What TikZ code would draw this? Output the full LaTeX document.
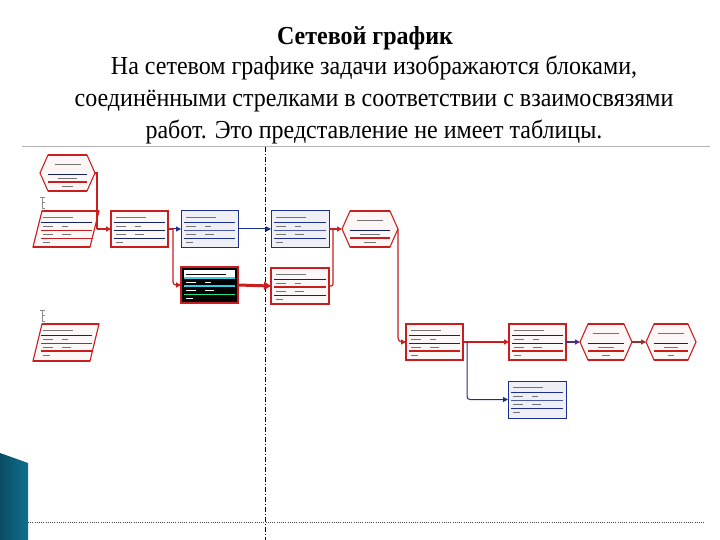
\documentclass[tikz,border=0pt]{standalone}
\usepackage{fontspec}
\setmainfont{Liberation Serif}
\usetikzlibrary{calc,arrows.meta}
\definecolor{rd}{HTML}{C81E1E}
\definecolor{drd}{HTML}{A02C28}
\definecolor{nv}{HTML}{1C2F8C}
\definecolor{pu}{HTML}{4A2C8C}
\definecolor{tl}{HTML}{0F6F8E}
\definecolor{cy}{HTML}{30D0E8}
\tikzset{
  box/.style={minimum width=57pt, minimum height=36pt, inner sep=0pt, outer sep=0pt},
  redbox/.style={box, draw=rd, line width=1.4pt, fill=rd!3},
  bluebox/.style={box, draw=nv, line width=1pt, fill=nv!7},
  blackbox/.style={box, draw=rd, line width=1.2pt, fill=black},
  shapeonly/.style={box},
  txt/.style={line width=0.9pt, black!55},
  wtxt/.style={line width=0.9pt, white},
  rl/.style={rd, line width=1.2pt},
  rlt/.style={rd, line width=2.2pt},
  bl/.style={nv, line width=1pt},
}
\newcommand\rowlines[5]{%
  \draw[#2] ($(#1.north west)+(3,11)$) -- ($(#1.north east)+(-3,11)$);
  \draw[#3] ($(#1.north west)+(3,19)$) -- ($(#1.north east)+(-3,19)$);
  \draw[#4] ($(#1.north west)+(3,27)$) -- ($(#1.north east)+(-3,27)$);
  \draw[#5] ($(#1.north west)+(5,6)$) -- ++(30,0);
  \draw[#5] ($(#1.north west)+(5,15)$) -- ++(10,0) ++(9,0) -- ++(6,0);
  \draw[#5] ($(#1.north west)+(5,23)$) -- ++(10,0) ++(9,0) -- ++(9,0);
  \draw[#5] ($(#1.north west)+(5,31.5)$) -- ++(7,0);
}
\newcommand\hexpath[2]{%
  \fill[rd!4] (#1.west) -- ($(#1.north west)+(#2,0)$) -- ($(#1.north east)+(-#2,0)$) -- (#1.east) -- ($(#1.south east)+(-#2,0)$) -- ($(#1.south west)+(#2,0)$) -- cycle;
  \draw[rd, line width=1.1pt] (#1.west) -- ($(#1.north west)+(#2,0)$) -- ($(#1.north east)+(-#2,0)$) -- (#1.east) -- ($(#1.south east)+(-#2,0)$) -- ($(#1.south west)+(#2,0)$) -- cycle;
  \draw[rd, line width=2pt] ($(#1.north west)+(#2,0)$) -- ($(#1.north east)+(-#2,0)$);
  \draw[rd, line width=2pt] ($(#1.south west)+(#2,0)$) -- ($(#1.south east)+(-#2,0)$);
  \draw[nv!70!black, line width=0.7pt] ($(#1.west)+(#2,1)$) -- ($(#1.east)+(-#2,1)$);
  \draw[rd, line width=1.4pt] ($(#1.west)+(#2,9)$) -- ($(#1.east)+(-#2,9)$);
  \draw[txt] ($(#1.north)+(-13,9)$) -- ++(26,0);
  \draw[txt, line width=0.7pt] ($(#1.west)+(#2+10,5)$) -- ($(#1.east)+(-#2-10,5)$);
  \draw[txt, line width=0.7pt] ($(#1.west)+(#2+14,13.5)$) -- ($(#1.east)+(-#2-14,13.5)$);
}
\newcommand\parapath[1]{%
  \fill[rd!3] ($(#1.north west)+(4.5,0)$) -- ($(#1.north east)+(4.5,0)$) -- ($(#1.south east)+(-4.5,0)$) -- ($(#1.south west)+(-4.5,0)$) -- cycle;
  \draw[rd, line width=1.1pt] ($(#1.north west)+(4.5,0)$) -- ($(#1.north east)+(4.5,0)$) -- ($(#1.south east)+(-4.5,0)$) -- ($(#1.south west)+(-4.5,0)$) -- cycle;
  \draw[rd, line width=2pt] ($(#1.south east)+(-4.5,0)$) -- ($(#1.south west)+(-4.5,0)$);
  \draw[rd, line width=2pt] ($(#1.north west)+(4.5,0)$) -- ($(#1.north east)+(4.5,0)$);
}
\newcommand\ebracket[2]{%
  \draw[black!45, line width=0.8pt] (#1-2,#2) -- (#1+3,#2) (#1,#2) -- (#1,#2+11) -- (#1+3,#2+11) (#1,#2+5.5) -- (#1+3,#2+5.5);
}
\begin{document}
\begin{tikzpicture}[x=1pt,y=-1pt, >={Triangle[length=5pt,width=5pt]}]
\useasboundingbox (0,0) rectangle (720,540);
\fill[white] (0,0) rectangle (720,540);

% title
\node[font=\bfseries\fontsize{24}{28}\selectfont, yscale=1.08] (title) at (365,38) {Сетевой график};
\node[align=center, font=\fontsize{24}{29.5}\selectfont, yscale=1.08] (body) at (374,100)
  {На сетевом графике задачи изображаются блоками,\\
   соединёнными стрелками в соответствии с взаимосвязями\\
   работ. Это представление не имеет таблицы.};

% frame lines
\draw[black!30, line width=1pt] (22,147) -- (710,147);
\draw[black, line width=0.9pt, dash pattern=on 5pt off 2pt on 1pt off 2pt] (265,147) -- (265,540);
\draw[black!70, line width=0.8pt, dash pattern=on 1pt off 1.2pt] (28,522) -- (705,522);

% teal corner
\shade[left color=tl!70!black, right color=tl] (0,453) -- (28,463) -- (28,540) -- (0,540) -- cycle;

% nodes (frames)
\node[shapeonly, minimum width=55pt] (n1) at (67.5,173) {};
\node[shapeonly, minimum width=57pt] (n3) at (66,229) {};
\node[redbox] (n4) at (139.5,229) {};
\node[bluebox] (n5) at (209.5,229) {};
\node[blackbox] (n6) at (209.5,285) {};
\node[bluebox, minimum width=58pt] (n7) at (300,229) {};
\node[redbox, minimum width=58pt] (n8) at (300,286) {};
\node[shapeonly, minimum width=56pt] (n9) at (370,229) {};
\node[shapeonly, minimum width=57pt, minimum height=37pt] (n10) at (66,342.5) {};
\node[redbox] (n11) at (434.5,342) {};
\node[redbox] (n12) at (537.5,342) {};
\node[shapeonly, minimum width=52pt] (n13) at (606,342) {};
\node[shapeonly, minimum width=50pt] (n14) at (671,342) {};
\node[bluebox, minimum width=58pt, minimum height=37pt] (n15) at (537,399.5) {};

% shapes
\hexpath{n1}{8}
\hexpath{n9}{8}
\hexpath{n13}{8}
\hexpath{n14}{8}
\parapath{n3}
\parapath{n10}
\ebracket{42}{197}
\ebracket{42}{310}

% rows
\rowlines{n3}{nv!70!black, line width=0.7pt}{rd, line width=0.8pt}{rd, line width=0.8pt}{txt}
\rowlines{n10}{nv!70!black, line width=0.7pt}{rd, line width=0.8pt}{rd, line width=2pt}{txt}
\rowlines{n4}{nv!70!black, line width=0.8pt}{nv!70!black, line width=0.6pt}{nv!70!black, line width=0.8pt}{txt}
\rowlines{n5}{nv, line width=0.9pt}{nv!80, line width=0.6pt}{nv, line width=0.9pt}{txt}
\rowlines{n7}{nv, line width=0.9pt}{nv!80, line width=0.6pt}{nv, line width=0.9pt}{txt}
\rowlines{n8}{nv!70!black, line width=0.8pt}{rd, line width=1.6pt}{nv!70!black, line width=0.8pt}{txt}
\rowlines{n11}{nv!70!black, line width=0.8pt}{nv!70!black, line width=0.6pt}{rd, line width=2pt}{txt}
\rowlines{n12}{nv!70!black, line width=0.8pt}{nv!70!black, line width=0.6pt}{rd, line width=2pt}{txt}
\rowlines{n15}{nv, line width=0.9pt}{nv!80, line width=0.6pt}{nv, line width=0.9pt}{txt}
% selected black box
\fill[white] ($(n6.north west)+(3,3)$) rectangle ($(n6.north east)+(-3,11)$);
\rowlines{n6}{cy, line width=1.2pt}{cy, line width=1.2pt}{cy!60!green, line width=1pt}{wtxt}
\draw[txt, black] ($(n6.north west)+(5,7)$) -- ++(40,0);

% connectors
\coordinate (j1) at (97,229);
\draw[rl] (n1.east) -| (j1);
\draw[rl] ($(n3.east)+(4.5,0)$) -- (j1);
\draw[rlt, ->] (j1) -- (n4.west);

\coordinate (j2) at (173,229);
\draw[rl] (n4.east) -- (j2);
\draw[bl, ->] (j2) -- (n5.west);
\draw[rl, rounded corners=3pt, ->] (j2) |- (n6.west);

\draw[bl, ->] (n5.east) -- (n7.west);
\draw[rd, line width=3pt, -{Triangle[length=7pt,width=8pt]}] (n6.east) -- (n8.west);

\coordinate (j3) at (333,229);
\draw[rl] (n7.east) -- (j3);
\draw[rl, rounded corners=2pt] (n8.east) -| (j3);
\draw[rl, ->] (j3) -- (n9.west);

\draw[rl, rounded corners=4pt, ->] (n9.east) |- (n11.west);

\draw[rlt, ->] (n11.east) -- (n12.west);
\coordinate (j4) at (467,342);
\draw[bl, rounded corners=3pt, ->] (j4) |- (n15.west);

\draw[pu, line width=1.6pt, ->] (n12.east) -- (n13.west);
\draw[drd, line width=2.4pt, ->] (n13.east) -- (n14.west);
\end{tikzpicture}
\end{document}
